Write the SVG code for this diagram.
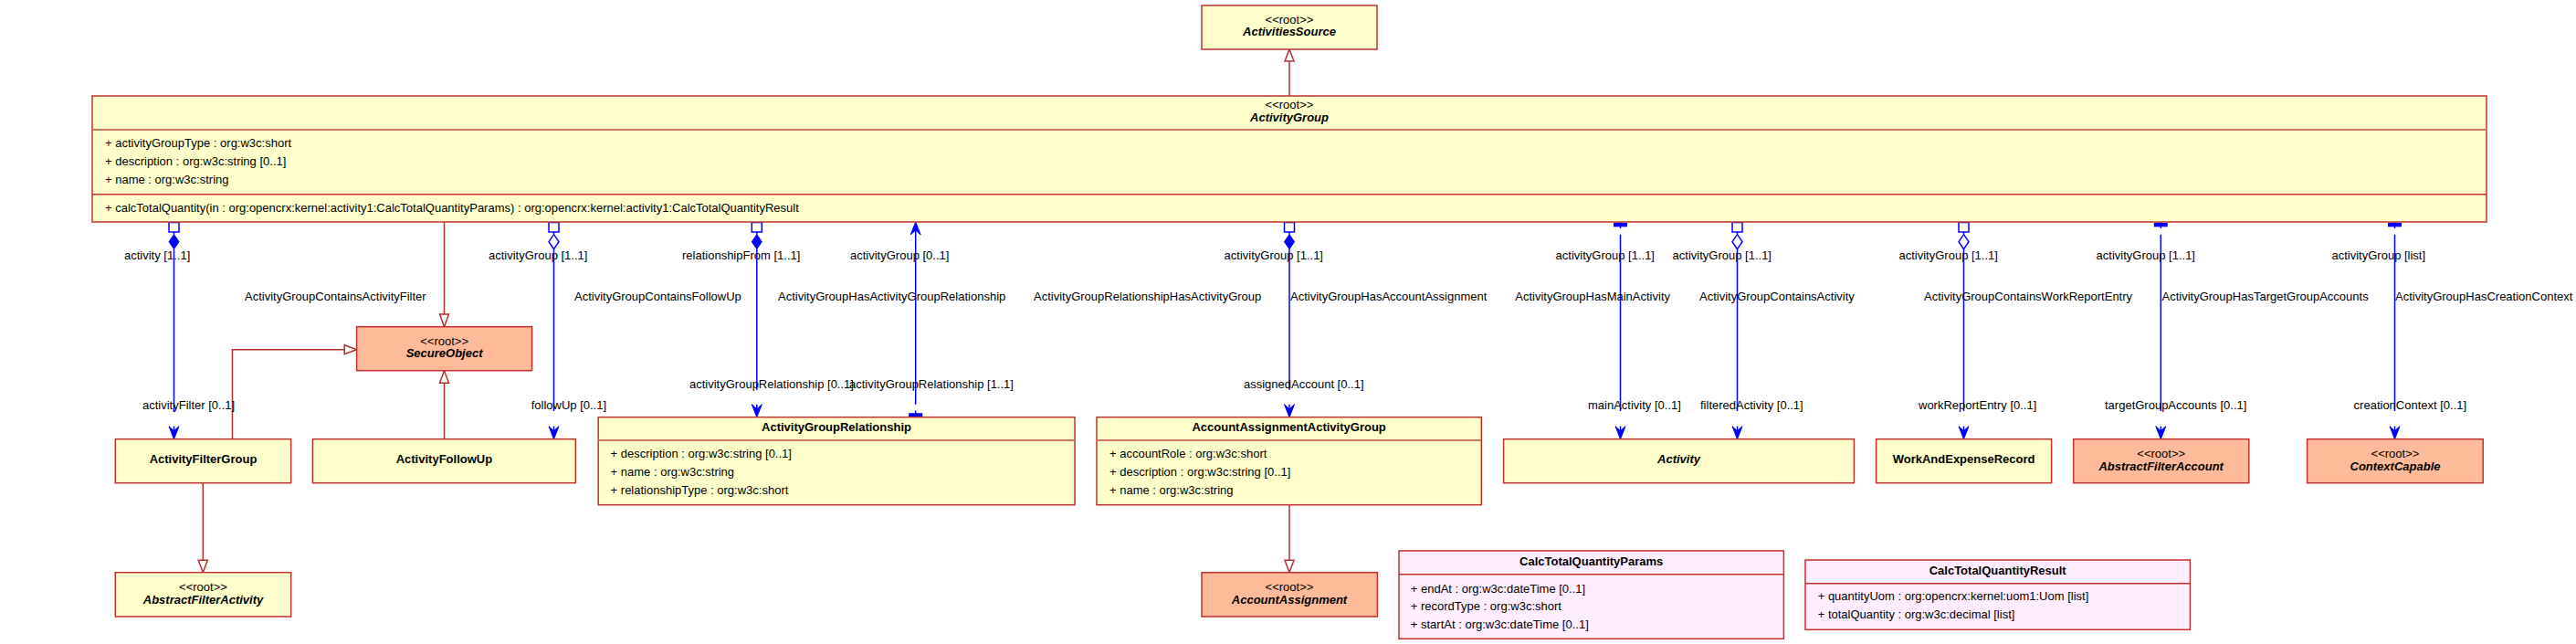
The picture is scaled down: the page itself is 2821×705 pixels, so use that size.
<svg xmlns="http://www.w3.org/2000/svg" width="2821" height="705" viewBox="0 0 2821 705">
<style>
.bg{fill:#ffffff}
.box{fill:#FFFFCC;stroke:#C03030;stroke-width:1.5}
.root{fill:#FFBB99;stroke:#C03030;stroke-width:1.5}
.dt{fill:#FFEEFF;stroke:#C03030;stroke-width:1.5}
.hsep{stroke:#C87860;stroke-width:2}
.osep{stroke:#C03030;stroke-width:1.5}
text{font-family:"Liberation Sans",Arial,sans-serif;font-size:13px;fill:#000}
.c{text-anchor:middle}
.b{font-weight:bold}
.bi{font-weight:bold;font-style:italic}
.end{text-anchor:end}
.as{stroke:#0000FF;stroke-width:1.5;fill:none}
.ah{fill:#0000FF;stroke:#0000FF;stroke-width:1;stroke-linejoin:miter}
.sq{fill:#ffffff;stroke:#0000FF;stroke-width:1.5}
.fd{fill:#0000FF;stroke:#0000FF;stroke-width:1}
.hd{fill:#ffffff;stroke:#0000FF;stroke-width:1.5}
.bar{fill:#0000FF}
.gen{stroke:#B03030;stroke-width:1.5;fill:none}
.tri{fill:#ffffff;stroke:#B03030;stroke-width:1.5}
</style>
<defs>
<g id="sqfd"><rect class="sq" x="-5.5" y="0.5" width="11" height="10.5"/><line class="as" x1="0" y1="11" x2="0" y2="13.7"/><path class="fd" d="M0,13.7 L5.5,21.7 L0,29.7 L-5.5,21.7 Z"/></g>
<g id="sqhd"><rect class="sq" x="-5.5" y="0.5" width="11" height="10.5"/><line class="as" x1="0" y1="11" x2="0" y2="13.7"/><path class="hd" d="M0,13.7 L5.5,21.7 L0,29.7 L-5.5,21.7 Z"/></g>
<g id="bartop"><rect class="bar" x="-7.5" y="1" width="15" height="4.3"/><line class="as" x1="0" y1="0" x2="0" y2="7"/></g>
<g id="arr"><path class="ah" d="M0,0 L-5.5,-14 L0,-9 L5.5,-14 Z"/><line class="as" x1="0" y1="-14" x2="0" y2="-6"/></g>
</defs>
<rect class="bg" x="0" y="0" width="2821" height="705"/>

<g id="connectors">
  <!-- generalizations -->
  <line class="gen" x1="1412" y1="105" x2="1412" y2="67"/>
  <path class="tri" d="M1412,54 L1417,67 L1407,67 Z"/>
  <line class="gen" x1="486.5" y1="243" x2="486.5" y2="344"/>
  <path class="tri" d="M486.5,357.7 L491.5,344 L481.5,344 Z"/>
  <polyline class="gen" points="254.5,480.7 254.5,382.7 377.2,382.7"/>
  <path class="tri" d="M390.6,382.7 L377.2,377.7 L377.2,387.7 Z"/>
  <line class="gen" x1="486.5" y1="480.7" x2="486.5" y2="419.3"/>
  <path class="tri" d="M486.5,405.7 L491.5,419.3 L481.5,419.3 Z"/>
  <line class="gen" x1="222.3" y1="528.7" x2="222.3" y2="613.3"/>
  <path class="tri" d="M222.3,626.7 L227.3,613.3 L217.3,613.3 Z"/>
  <line class="gen" x1="1412" y1="552.7" x2="1412" y2="613.3"/>
  <path class="tri" d="M1412,626.7 L1417,613.3 L1407,613.3 Z"/>

  <!-- associations -->
  <use href="#sqfd" x="190.5" y="243"/>
  <line class="as" x1="190.5" y1="272.7" x2="190.5" y2="450"/>
  <use href="#arr" x="190.5" y="480.7"/>

  <use href="#sqhd" x="606.5" y="243"/>
  <line class="as" x1="606.5" y1="272.7" x2="606.5" y2="450"/>
  <use href="#arr" x="606.5" y="480.7"/>

  <use href="#sqfd" x="828.8" y="243"/>
  <line class="as" x1="828.8" y1="272.7" x2="828.8" y2="426.7"/>
  <use href="#arr" x="828.8" y="456.7"/>

  <path class="ah" d="M1002.7,243 L997.2,257 L1002.7,252 L1008.2,257 Z"/>
  <line class="as" x1="1002.7" y1="248" x2="1002.7" y2="442.7"/>
  <rect class="bar" x="995.2" y="452.2" width="15" height="4.5"/>
  <line class="as" x1="1002.7" y1="449.5" x2="1002.7" y2="456.7"/>

  <use href="#sqfd" x="1412" y="243"/>
  <line class="as" x1="1412" y1="272.7" x2="1412" y2="426.7"/>
  <use href="#arr" x="1412" y="456.7"/>

  <use href="#bartop" x="1774.5" y="243"/>
  <line class="as" x1="1774.5" y1="256.7" x2="1774.5" y2="450"/>
  <use href="#arr" x="1774.5" y="480.7"/>

  <use href="#sqhd" x="1902.5" y="243"/>
  <line class="as" x1="1902.5" y1="272.7" x2="1902.5" y2="450"/>
  <use href="#arr" x="1902.5" y="480.7"/>

  <use href="#sqhd" x="2150.5" y="243"/>
  <line class="as" x1="2150.5" y1="272.7" x2="2150.5" y2="450"/>
  <use href="#arr" x="2150.5" y="480.7"/>

  <use href="#bartop" x="2366.3" y="243"/>
  <line class="as" x1="2366.3" y1="256.7" x2="2366.3" y2="450"/>
  <use href="#arr" x="2366.3" y="480.7"/>

  <use href="#bartop" x="2622.5" y="243"/>
  <line class="as" x1="2622.5" y1="256.7" x2="2622.5" y2="450"/>
  <use href="#arr" x="2622.5" y="480.7"/>

  <!-- end labels (top) -->
  <text x="136" y="283.5">activity [1..1]</text>
  <text x="535" y="283.5">activityGroup [1..1]</text>
  <text x="747" y="283.5">relationshipFrom [1..1]</text>
  <text x="931" y="283.5">activityGroup [0..1]</text>
  <text x="1340.6" y="283.5">activityGroup [1..1]</text>
  <text x="1703.6" y="283.5">activityGroup [1..1]</text>
  <text x="1831.6" y="283.5">activityGroup [1..1]</text>
  <text x="2079.5" y="283.5">activityGroup [1..1]</text>
  <text x="2295.6" y="283.5">activityGroup [1..1]</text>
  <text x="2553.5" y="283.5">activityGroup [list]</text>
  <!-- association names -->
  <text x="268" y="329">ActivityGroupContainsActivityFilter</text>
  <text x="629" y="329">ActivityGroupContainsFollowUp</text>
  <text x="852" y="329">ActivityGroupHasActivityGroupRelationship</text>
  <text x="1132" y="329">ActivityGroupRelationshipHasActivityGroup</text>
  <text x="1413" y="329">ActivityGroupHasAccountAssignment</text>
  <text x="1829" y="329" class="end">ActivityGroupHasMainActivity</text>
  <text x="1861" y="329">ActivityGroupContainsActivity</text>
  <text x="2107" y="329">ActivityGroupContainsWorkReportEntry</text>
  <text x="2367.5" y="329">ActivityGroupHasTargetGroupAccounts</text>
  <text x="2623" y="329">ActivityGroupHasCreationContext</text>
  <!-- end labels (bottom) -->
  <text x="755" y="424.5">activityGroupRelationship [0..1]</text>
  <text x="930" y="424.5">activityGroupRelationship [1..1]</text>
  <text x="1362" y="424.5">assignedAccount [0..1]</text>
  <text x="156" y="448">activityFilter [0..1]</text>
  <text x="581.7" y="448">followUp [0..1]</text>
  <text x="1739" y="448">mainActivity [0..1]</text>
  <text x="1862" y="448">filteredActivity [0..1]</text>
  <text x="2101" y="448">workReportEntry [0..1]</text>
  <text x="2305" y="448">targetGroupAccounts [0..1]</text>
  <text x="2577.6" y="448">creationContext [0..1]</text>
</g>

<g id="ActivitiesSource">
  <rect class="box" x="1316" y="6" width="192" height="48"/>
  <text class="c" x="1412" y="26">&lt;&lt;root&gt;&gt;</text>
  <text class="c bi" x="1412" y="39">ActivitiesSource</text>
</g>

<g id="ActivityGroup">
  <rect class="box" x="101" y="105" width="2622" height="138"/>
  <line class="hsep" x1="101" y1="142" x2="2723" y2="142"/>
  <line class="osep" x1="101" y1="212.7" x2="2723" y2="212.7"/>
  <text class="c" x="1412" y="119">&lt;&lt;root&gt;&gt;</text>
  <text class="c bi" x="1412" y="133">ActivityGroup</text>
  <text x="115" y="161">+ activityGroupType : org:w3c:short</text>
  <text x="115" y="181">+ description : org:w3c:string [0..1]</text>
  <text x="115" y="201">+ name : org:w3c:string</text>
  <text x="115" y="232">+ calcTotalQuantity(in : org:opencrx:kernel:activity1:CalcTotalQuantityParams) : org:opencrx:kernel:activity1:CalcTotalQuantityResult</text>
</g>

<g id="SecureObject">
  <rect class="root" x="390.6" y="357.7" width="192" height="48"/>
  <text class="c" x="486.6" y="378">&lt;&lt;root&gt;&gt;</text>
  <text class="c bi" x="486.6" y="391">SecureObject</text>
</g>

<g id="ActivityFilterGroup">
  <rect class="box" x="126.3" y="480.7" width="192.4" height="48"/>
  <text class="c b" x="222.5" y="507">ActivityFilterGroup</text>
</g>

<g id="AbstractFilterActivity">
  <rect class="box" x="126.3" y="626.7" width="192.4" height="48.3"/>
  <text class="c" x="222.5" y="647">&lt;&lt;root&gt;&gt;</text>
  <text class="c bi" x="222.5" y="661">AbstractFilterActivity</text>
</g>

<g id="ActivityFollowUp">
  <rect class="box" x="342.4" y="480.7" width="287.9" height="48"/>
  <text class="c b" x="486.4" y="507">ActivityFollowUp</text>
</g>

<g id="ActivityGroupRelationship">
  <rect class="box" x="655.2" y="456.7" width="521.8" height="96"/>
  <line class="hsep" x1="655.2" y1="482" x2="1177" y2="482"/>
  <text class="c b" x="916" y="471.5">ActivityGroupRelationship</text>
  <text x="668.6" y="501">+ description : org:w3c:string [0..1]</text>
  <text x="668.6" y="521">+ name : org:w3c:string</text>
  <text x="668.6" y="541">+ relationshipType : org:w3c:short</text>
</g>

<g id="AccountAssignmentActivityGroup">
  <rect class="box" x="1201" y="456.7" width="421.3" height="96"/>
  <line class="hsep" x1="1201" y1="482" x2="1622.3" y2="482"/>
  <text class="c b" x="1411.6" y="471.5">AccountAssignmentActivityGroup</text>
  <text x="1215" y="501">+ accountRole : org:w3c:short</text>
  <text x="1215" y="521">+ description : org:w3c:string [0..1]</text>
  <text x="1215" y="541">+ name : org:w3c:string</text>
</g>

<g id="AccountAssignment">
  <rect class="root" x="1316" y="626.7" width="192.4" height="48.3"/>
  <text class="c" x="1412" y="647">&lt;&lt;root&gt;&gt;</text>
  <text class="c bi" x="1412" y="661">AccountAssignment</text>
</g>

<g id="Activity">
  <rect class="box" x="1646.6" y="480.7" width="383.8" height="48"/>
  <text class="c bi" x="1838.5" y="507">Activity</text>
</g>

<g id="WorkAndExpenseRecord">
  <rect class="box" x="2054.6" y="480.7" width="192" height="48"/>
  <text class="c b" x="2150.6" y="507">WorkAndExpenseRecord</text>
</g>

<g id="AbstractFilterAccount">
  <rect class="root" x="2270.7" y="480.7" width="192.1" height="48"/>
  <text class="c" x="2366.7" y="501">&lt;&lt;root&gt;&gt;</text>
  <text class="c bi" x="2366.7" y="514.5">AbstractFilterAccount</text>
</g>

<g id="ContextCapable">
  <rect class="root" x="2526.6" y="480.7" width="192.6" height="48"/>
  <text class="c" x="2623" y="501">&lt;&lt;root&gt;&gt;</text>
  <text class="c bi" x="2623" y="514.5">ContextCapable</text>
</g>

<g id="CalcTotalQuantityParams">
  <rect class="dt" x="1532" y="603" width="421.4" height="96.3"/>
  <line class="osep" x1="1532" y1="628.7" x2="1953.4" y2="628.7"/>
  <text class="c b" x="1742.7" y="618.5">CalcTotalQuantityParams</text>
  <text x="1544.8" y="648.5">+ endAt : org:w3c:dateTime [0..1]</text>
  <text x="1544.8" y="668.2">+ recordType : org:w3c:short</text>
  <text x="1544.8" y="688.2">+ startAt : org:w3c:dateTime [0..1]</text>
</g>

<g id="CalcTotalQuantityResult">
  <rect class="dt" x="1977" y="613" width="421.4" height="76.3"/>
  <line class="osep" x1="1977" y1="638.7" x2="2398.4" y2="638.7"/>
  <text class="c b" x="2187.7" y="628.5">CalcTotalQuantityResult</text>
  <text x="1990.7" y="657.2">+ quantityUom : org:opencrx:kernel:uom1:Uom [list]</text>
  <text x="1990.7" y="677.2">+ totalQuantity : org:w3c:decimal [list]</text>
</g>
</svg>
